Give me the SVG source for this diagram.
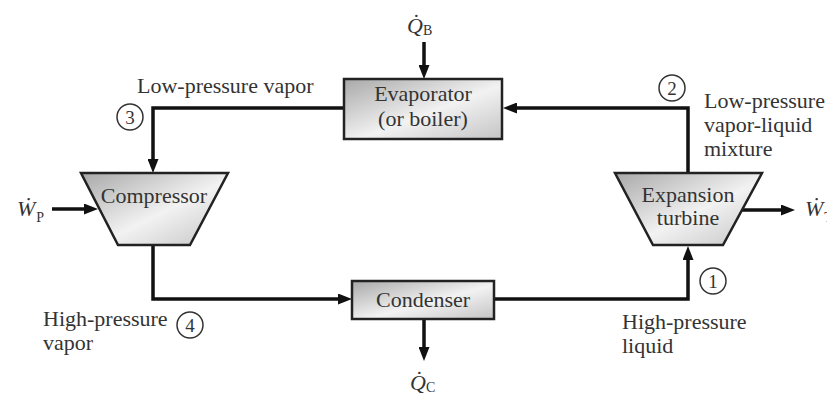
<svg xmlns="http://www.w3.org/2000/svg" width="827" height="394" viewBox="0 0 827 394">
<defs>
<linearGradient id="g" x1="0" y1="0" x2="1" y2="1">
<stop offset="0" stop-color="#a8a8a8"/>
<stop offset="0.55" stop-color="#f2f2f2"/>
<stop offset="1" stop-color="#c4c4c4"/>
</linearGradient>
<marker id="ah" markerUnits="userSpaceOnUse" markerWidth="14" markerHeight="11" refX="6" refY="5.5" orient="auto">
<path d="M0,0 L14,5.5 L0,11 z" fill="#111"/>
</marker>
<style>
.n{fill:url(#g);stroke:#222;stroke-width:2.5}
.c{fill:none;stroke:#111;stroke-width:3.5;marker-end:url(#ah)}
.t{font-family:"Liberation Serif","Times New Roman",serif;font-size:22px;fill:#333}
.m{text-anchor:middle}
.i{font-style:italic}
.s{font-size:14px}
.o{fill:#fff;stroke:#333;stroke-width:1.5}
.k{font-family:"Liberation Serif","Times New Roman",serif;font-size:19px;fill:#333;text-anchor:middle}
</style>
</defs>
<rect width="827" height="394" fill="#fff"/>
<g id="connectors">
<path class="c" d="M344,108 H153 V165"/>
<path class="c" d="M153,245 V299 H344"/>
<path class="c" d="M494,299 H688 V254"/>
<path class="c" d="M688,173 V108 H511"/>
<path class="c" d="M424,42 V71"/>
<path class="c" d="M424,319 V353"/>
<path class="c" d="M52,209 H90"/>
<path class="c" d="M742,210 H787"/>
</g>
<g id="evaporator">
<rect class="n" x="344" y="79" width="158" height="60"/>
<text class="t m" x="423" y="101">Evaporator</text>
<text class="t m" x="423" y="126">(or boiler)</text>
</g>
<g id="condenser">
<rect class="n" x="352" y="281" width="142" height="38"/>
<text class="t m" x="423" y="307">Condenser</text>
</g>
<g id="compressor">
<polygon class="n" points="81,173 228,173 190,245 118,245"/>
<text class="t m" x="154" y="203">Compressor</text>
</g>
<g id="turbine">
<polygon class="n" points="615,173 762,173 723,245 653,245"/>
<text class="t m" x="688" y="202">Expansion</text>
<text class="t m" x="688" y="225">turbine</text>
</g>
<g id="state1">
<circle class="o" cx="713" cy="281" r="13"/>
<text class="k" x="713" y="288">1</text>
</g>
<g id="state2">
<circle class="o" cx="672" cy="88" r="13"/>
<text class="k" x="672" y="95">2</text>
</g>
<g id="state3">
<circle class="o" cx="130" cy="117" r="13"/>
<text class="k" x="130" y="124">3</text>
</g>
<g id="state4">
<circle class="o" cx="190" cy="325" r="13"/>
<text class="k" x="190" y="332">4</text>
</g>
<g id="labels">
<text class="t" x="137" y="93">Low-pressure vapor</text>
<text class="t" x="704" y="108">Low-pressure</text>
<text class="t" x="704" y="132">vapor-liquid</text>
<text class="t" x="704" y="156">mixture</text>
<text class="t" x="43" y="326">High-pressure</text>
<text class="t" x="43" y="350">vapor</text>
<text class="t" x="622" y="329">High-pressure</text>
<text class="t" x="622" y="353">liquid</text>
<text class="t" x="407" y="33"><tspan class="i">Q̇</tspan><tspan class="s" dy="2">B</tspan></text>
<text class="t" x="410" y="390"><tspan class="i">Q̇</tspan><tspan class="s" dy="2">C</tspan></text>
<text class="t" x="17" y="216"><tspan class="i">Ẇ</tspan><tspan class="s" dy="6" dx="1">P</tspan></text>
<text class="t" x="805" y="216"><tspan class="i">Ẇ</tspan><tspan class="s" dy="6" dx="1">T</tspan></text>
</g>
</svg>
